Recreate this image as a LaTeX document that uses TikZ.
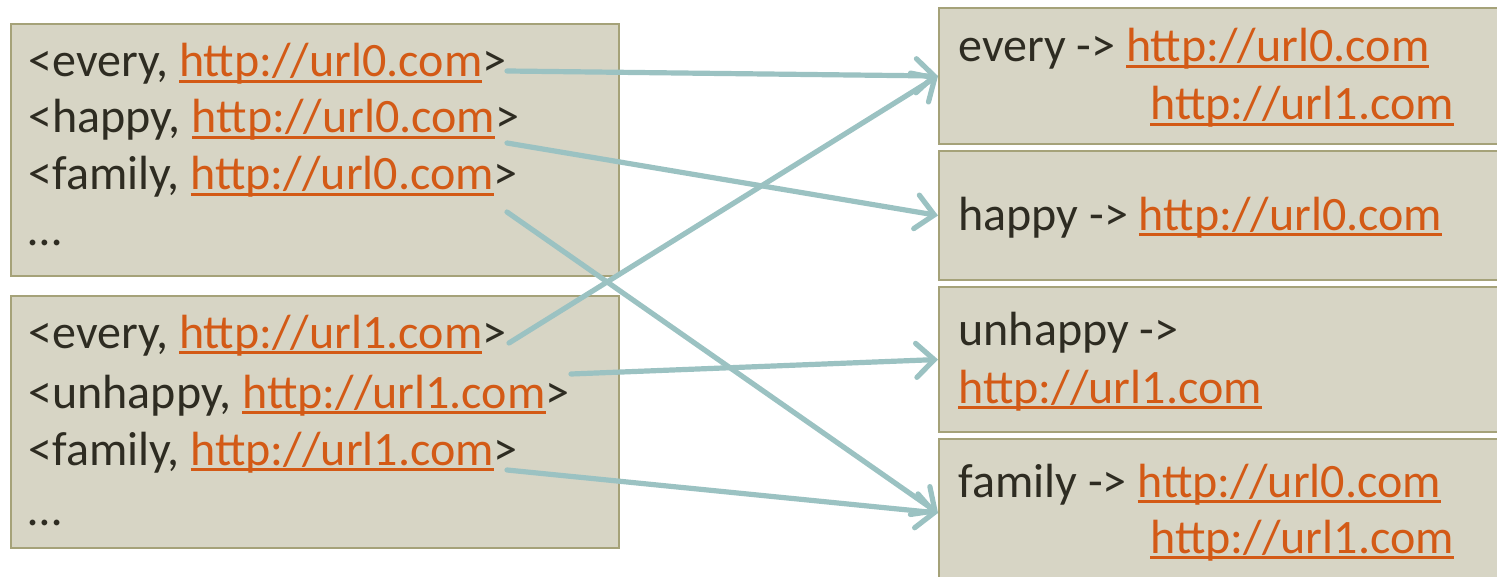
\documentclass[tikz,border=0pt]{standalone}
\usepackage{fontspec}
\setmainfont{Carlito}
\usetikzlibrary{arrows.meta}
\definecolor{boxfill}{HTML}{D7D5C5}
\definecolor{boxedge}{HTML}{A5A279}
\definecolor{ink}{HTML}{2E2C22}
\definecolor{link}{HTML}{D35A16}
\definecolor{wire}{HTML}{9BC2C2}
% underlined hyperlink-style text
\newcommand\lnk[1]{{\color{link}\setbox0=\hbox{#1}\rlap{\rule[-3.2pt]{\wd0}{1.5pt}}\box0}}

\begin{document}
\begin{tikzpicture}[x=0.5pt,y=-0.5pt,
  panel/.style={draw=boxedge, line width=1pt, fill=boxfill, anchor=north west,
                inner sep=0pt, minimum width=#1},
  panel/.default=304pt,
  txt/.style={anchor=base west, inner sep=0pt, text=ink,
              font=\fontsize{24}{29}\selectfont},
  linkarrow/.style={draw=wire, line width=2.6pt, line cap=round,
    -{Straight Barb[length=9pt, width=17pt, line width=2.6pt, line cap=round]}}]
\useasboundingbox (0,0) rectangle (1497,577);

% source pairs
\node[panel, minimum height=126pt] (L1) at (10,23) {};
\node[panel, minimum height=126pt] (L2) at (10,295) {};

% inverted index entries
\node[panel=290pt, minimum height=68pt]   (R1) at (938,7) {};
\node[panel=290pt, minimum height=64.5pt] (R2) at (938,150) {};
\node[panel=290pt, minimum height=72.5pt] (R3) at (938,286) {};
\node[panel=290pt, minimum height=74pt]   (R4) at (938,438) {};

% text of the source pairs
\node[txt] (e0) at (28,77)  {<every, \lnk{http://url0.com}>};
\node[txt] (h0) at (28,133) {<happy, \lnk{http://url0.com}>};
\node[txt] (f0) at (28,190) {<family, \lnk{http://url0.com}>};
\node[txt] (d0) at (28,245) {…};
\node[txt] (e1) at (28,348) {<every, \lnk{http://url1.com}>};
\node[txt] (u1) at (28,408) {<unhappy, \lnk{http://url1.com}>};
\node[txt] (f1) at (28,465) {<family, \lnk{http://url1.com}>};
\node[txt] (d1) at (28,525) {…};

% text of the index entries
\node[txt] (re)  at (958,62)   {every -> \lnk{http://url0.com}};
\node[txt] (re1) at (1150,120) {\lnk{http://url1.com}};
\node[txt] (rh)  at (958,230)  {happy -> \lnk{http://url0.com}};
\node[txt] (ru)  at (958,345)  {unhappy ->};
\node[txt] (ru1) at (958,403)  {\lnk{http://url1.com}};
\node[txt] (rf)  at (958,497)  {family -> \lnk{http://url0.com}};
\node[txt] (rf1) at (1150,553) {\lnk{http://url1.com}};

% arrow start points beside the pairs
\coordinate (se0) at (507,71);
\coordinate (sh0) at (507,143);
\coordinate (sf0) at (507,212);
\coordinate (se1) at (509,343);
\coordinate (su1) at (571,374);
\coordinate (sf1) at (507,470);

\draw[linkarrow] (se0) -- (R1.west);
\draw[linkarrow] (sh0) -- (R2.west);
\draw[linkarrow] (sf0) -- (R4.west);
\draw[linkarrow] (se1) -- (R1.west);
\draw[linkarrow] (su1) -- (R3.west);
\draw[linkarrow] (sf1) -- (R4.west);
\end{tikzpicture}
\end{document}
